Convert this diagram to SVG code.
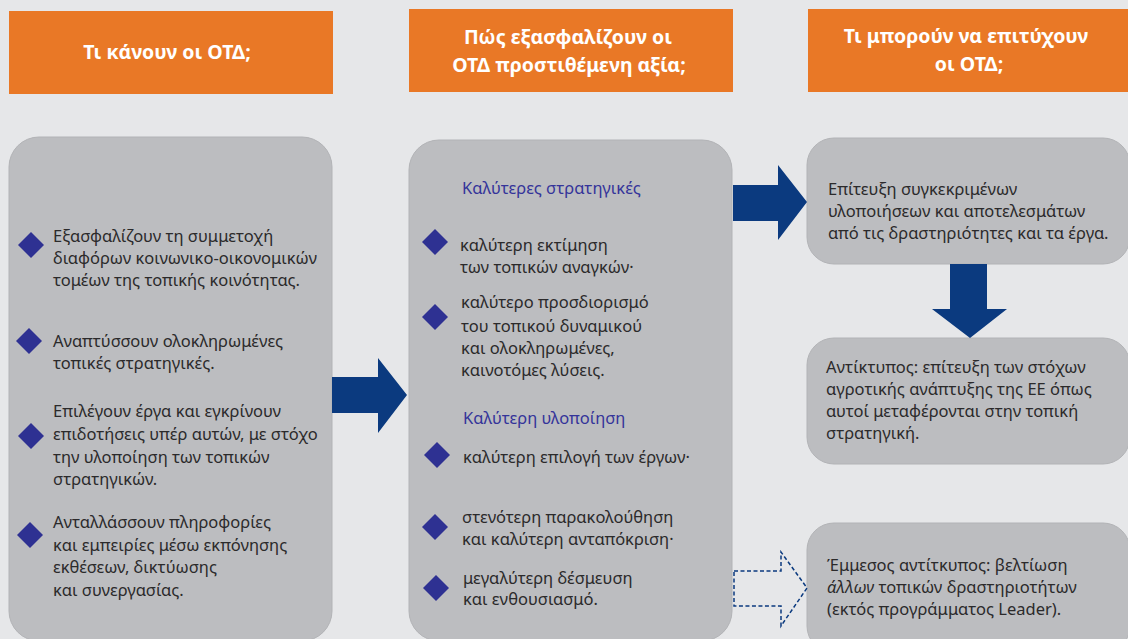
<svg xmlns="http://www.w3.org/2000/svg" width="1128" height="639" viewBox="0 0 1128 639">
<style>
.hdr{fill:#e97826}
.ht{font-family:"Noto Sans","Liberation Sans",sans-serif;font-size:19.5px;font-weight:bold;fill:#ffffff;text-anchor:middle}
.box{fill:#bcbdc0;stroke:#b2b3b6;stroke-width:1}
.t{font-family:"Noto Sans","Liberation Sans",sans-serif;font-size:16.5px;fill:#2b2a2b}
.sub{font-family:"Noto Sans","Liberation Sans",sans-serif;font-size:16.5px;fill:#34349a}
.dia{fill:#2e3192}
.arr{fill:#0b3a7f}
.darr{fill:none;stroke:#0b3a7f;stroke-width:1.5;stroke-dasharray:4 2.5}
</style>
<defs>
<path id="d" d="M0,-13 L13,0 L0,13 L-13,0 Z"/>
</defs>
<rect width="1128" height="639" fill="#e6e7e9"/>

<g id="header1">
<rect class="hdr" x="9" y="11" width="324" height="83"/>
<text class="ht" x="167" y="59">Τι κάνουν οι ΟΤΔ;</text>
</g>
<g id="header2">
<rect class="hdr" x="409" y="9" width="324" height="83"/>
<text class="ht" x="568" y="44">Πώς εξασφαλίζουν οι</text>
<text class="ht" x="569" y="71.5">ΟΤΔ προστιθέμενη αξία;</text>
</g>
<g id="header3">
<rect class="hdr" x="808" y="9" width="330" height="83"/>
<text class="ht" x="966" y="43">Τι μπορούν να επιτύχουν</text>
<text class="ht" x="969" y="70.5">οι ΟΤΔ;</text>
</g>

<g id="left-box">
<rect class="box" x="9" y="137" width="323" height="504" rx="30"/>
<use href="#d" class="dia" x="31" y="245"/>
<text class="t" x="53" y="242">Εξασφαλίζουν τη συμμετοχή</text>
<text class="t" x="53" y="264">διαφόρων κοινωνικο-οικονομικών</text>
<text class="t" x="53" y="286">τομέων της τοπικής κοινότητας.</text>
<use href="#d" class="dia" x="29" y="341"/>
<text class="t" x="53" y="347">Αναπτύσσουν ολοκληρωμένες</text>
<text class="t" x="53" y="369">τοπικές στρατηγικές.</text>
<use href="#d" class="dia" x="31" y="436"/>
<text class="t" x="53" y="417">Επιλέγουν έργα και εγκρίνουν</text>
<text class="t" x="53" y="440">επιδοτήσεις υπέρ αυτών, με στόχο</text>
<text class="t" x="53" y="463">την υλοποίηση των τοπικών</text>
<text class="t" x="53" y="485">στρατηγικών.</text>
<use href="#d" class="dia" x="30" y="535"/>
<text class="t" x="53" y="528">Ανταλλάσσουν πληροφορίες</text>
<text class="t" x="53" y="551">και εμπειρίες μέσω εκπόνησης</text>
<text class="t" x="53" y="573">εκθέσεων, δικτύωσης</text>
<text class="t" x="53" y="596">και συνεργασίας.</text>
</g>

<g id="middle-box">
<rect class="box" x="409" y="140" width="323" height="501" rx="30"/>
<text class="sub" x="462" y="194">Καλύτερες στρατηγικές</text>
<use href="#d" class="dia" x="435" y="242"/>
<text class="t" x="460" y="251">καλύτερη εκτίμηση</text>
<text class="t" x="460" y="273">των τοπικών αναγκών·</text>
<use href="#d" class="dia" x="435" y="317"/>
<text class="t" x="461" y="308">καλύτερο προσδιορισμό</text>
<text class="t" x="461" y="332">του τοπικού δυναμικού</text>
<text class="t" x="461" y="354">και ολοκληρωμένες,</text>
<text class="t" x="461" y="376">καινοτόμες λύσεις.</text>
<text class="sub" x="463" y="424">Καλύτερη υλοποίηση</text>
<use href="#d" class="dia" x="437" y="455"/>
<text class="t" x="463" y="463">καλύτερη επιλογή των έργων·</text>
<use href="#d" class="dia" x="435" y="527"/>
<text class="t" x="462" y="523">στενότερη παρακολούθηση</text>
<text class="t" x="462" y="545">και καλύτερη ανταπόκριση·</text>
<use href="#d" class="dia" x="436" y="588"/>
<text class="t" x="463" y="584">μεγαλύτερη δέσμευση</text>
<text class="t" x="463" y="605">και ενθουσιασμό.</text>
</g>

<g id="right-box1">
<rect class="box" x="807" y="138" width="323" height="126" rx="27"/>
<text class="t" x="828" y="195">Επίτευξη συγκεκριμένων</text>
<text class="t" x="828" y="217">υλοποιήσεων και αποτελεσμάτων</text>
<text class="t" x="828" y="239">από τις δραστηριότητες και τα έργα.</text>
</g>
<g id="right-box2">
<rect class="box" x="807" y="338" width="323" height="126" rx="27"/>
<text class="t" x="826" y="373">Αντίκτυπος: επίτευξη των στόχων</text>
<text class="t" x="826" y="395">αγροτικής ανάπτυξης της ΕΕ όπως</text>
<text class="t" x="826" y="417">αυτοί μεταφέρονται στην τοπική</text>
<text class="t" x="826" y="439">στρατηγική.</text>
</g>
<g id="right-box3">
<rect class="box" x="807" y="523" width="323" height="130" rx="27"/>
<text class="t" x="827" y="571">Έμμεσος αντίτκυπος: βελτίωση</text>
<text class="t" x="827" y="593"><tspan font-style="italic">άλλων</tspan> τοπικών δραστηριοτήτων</text>
<text class="t" x="827" y="615">(εκτός προγράμματος Leader).</text>
</g>

<g id="connectors">
<path class="arr" d="M332,377 L378,377 L378,358 L407,395 L378,433 L378,413 L332,413 Z"/>
<path class="arr" d="M733,185 L778,185 L778,165 L807,202 L778,240 L778,221 L733,221 Z"/>
<path class="arr" d="M950,264 L987,264 L987,309 L1007,309 L970,338 L932,309 L950,309 Z"/>
<path class="darr" d="M734,571 L781,571 L781,552 L807,588 L781,626 L781,606 L734,606 Z"/>
</g>
</svg>
